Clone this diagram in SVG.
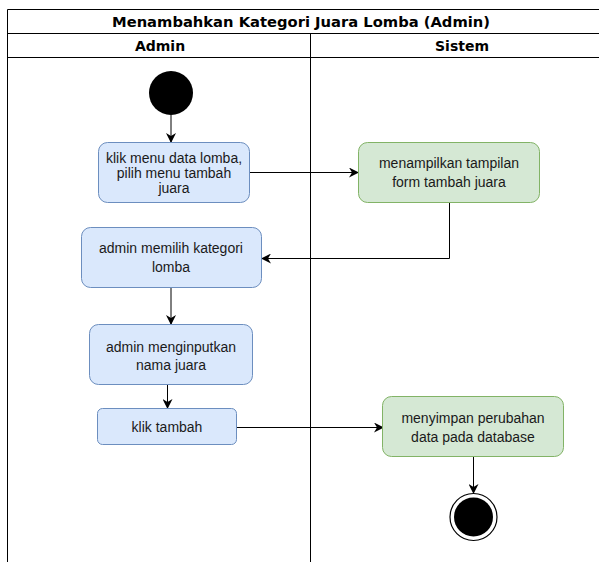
<svg xmlns="http://www.w3.org/2000/svg" width="599" height="562" viewBox="0 0 599 562">
  <defs>
    <marker id="arrow" viewBox="0 0 10 10" refX="9" refY="5" markerWidth="10" markerHeight="10" markerUnits="userSpaceOnUse" orient="auto">
      <path d="M0,0 L10,5 L0,10 L3,5 Z" fill="#000"/>
    </marker>
  </defs>
  <style>
    .lane { fill: none; stroke: #000; stroke-width: 1; }
    .hdr { font-family: "DejaVu Sans", Verdana, sans-serif; font-weight: bold; font-size: 14px; fill: #000; text-anchor: middle; }
    .blue { fill: #dae8fc; stroke: #6c8ebf; stroke-width: 1; }
    .green { fill: #d5e8d4; stroke: #82b366; stroke-width: 1; }
    .lbl { font-family: "Liberation Sans", Arial, sans-serif; font-size: 14px; fill: #1a1a1a; text-anchor: middle; }
    .edge { fill: none; stroke: #000; stroke-width: 1; marker-end: url(#arrow); }
  </style>

  <!-- swimlane frame -->
  <g id="pool">
    <rect x="0" y="0" width="599" height="562" fill="#fff"/>
    <path class="lane" d="M7.5,562 V9.5 H605" stroke-width="2"/>
    <line class="lane" x1="7.5" y1="33.5" x2="605" y2="33.5" stroke="#555"/>
    <line class="lane" x1="7.5" y1="57.5" x2="605" y2="57.5" stroke="#555"/>
    <line class="lane" x1="310.5" y1="33.5" x2="310.5" y2="562"/>
    <text class="hdr" x="301" y="27" textLength="378" lengthAdjust="spacingAndGlyphs">Menambahkan Kategori Juara Lomba (Admin)</text>
    <text class="hdr" x="160" y="51">Admin</text>
    <text class="hdr" x="462" y="51">Sistem</text>
  </g>

  <!-- connectors -->
  <g id="edges">
    <line class="edge" x1="171" y1="115" x2="171" y2="142"/>
    <line class="edge" x1="250" y1="172.5" x2="358" y2="172.5"/>
    <path class="edge" d="M449.5,203 V258.5 H262"/>
    <line class="edge" x1="171" y1="288" x2="171" y2="324"/>
    <line class="edge" x1="167.5" y1="385" x2="167.5" y2="408"/>
    <line class="edge" x1="237" y1="427.5" x2="383" y2="427.5"/>
    <line class="edge" x1="473.5" y1="457" x2="473.5" y2="493"/>
  </g>

  <g id="start">
    <circle cx="171" cy="93" r="22" fill="#000"/>
  </g>

  <g id="n1">
    <rect class="blue" x="98.5" y="142.5" width="151" height="60" rx="9"/>
    <text class="lbl"><tspan x="174" y="163">klik menu data lomba,</tspan><tspan x="174" y="178">pilih menu tambah</tspan><tspan x="174" y="193">juara</tspan></text>
  </g>

  <g id="n2">
    <rect class="green" x="358.5" y="142.5" width="181" height="60" rx="9"/>
    <text class="lbl"><tspan x="449" y="168">menampilkan tampilan</tspan><tspan x="449" y="187">form tambah juara</tspan></text>
  </g>

  <g id="n3">
    <rect class="blue" x="81.5" y="227.5" width="180" height="60" rx="9"/>
    <text class="lbl"><tspan x="171" y="253">admin memilih kategori</tspan><tspan x="171" y="272">lomba</tspan></text>
  </g>

  <g id="n4">
    <rect class="blue" x="89.5" y="324.5" width="163" height="60" rx="9"/>
    <text class="lbl"><tspan x="171" y="352">admin menginputkan</tspan><tspan x="171" y="370">nama juara</tspan></text>
  </g>

  <g id="n5">
    <rect class="blue" x="97.5" y="408.5" width="139" height="36" rx="5"/>
    <text class="lbl" x="167" y="432">klik tambah</text>
  </g>

  <g id="n6">
    <rect class="green" x="382.5" y="396.5" width="181" height="60" rx="9"/>
    <text class="lbl"><tspan x="473" y="423">menyimpan perubahan</tspan><tspan x="473" y="442">data pada database</tspan></text>
  </g>

  <g id="end">
    <circle cx="473.5" cy="517" r="23.5" fill="#fff" stroke="#000" stroke-width="1.2"/>
    <circle cx="473.5" cy="517" r="19.5" fill="#000"/>
  </g>
</svg>
